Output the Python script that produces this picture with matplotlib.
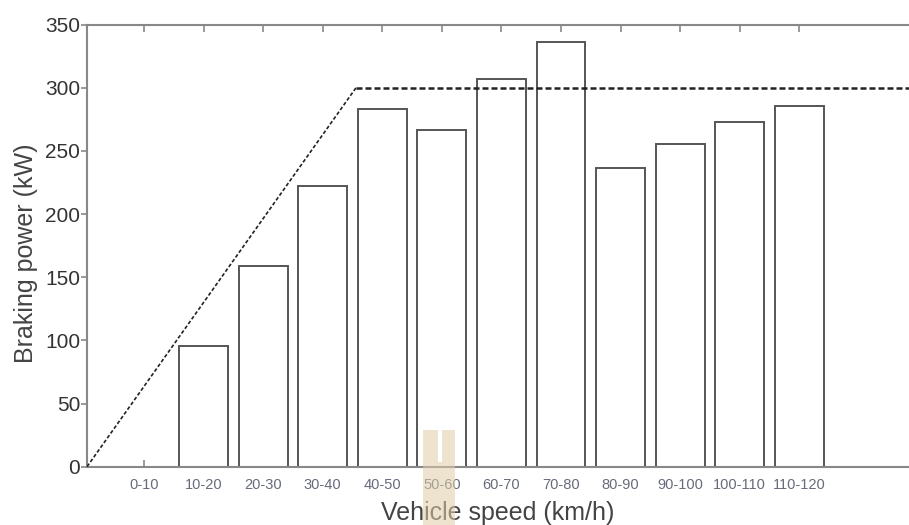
import matplotlib
matplotlib.use("Agg")
import matplotlib.pyplot as plt
from matplotlib.patches import Rectangle

plt.rcParams['font.family'] = ['Liberation Sans', 'DejaVu Sans']

categories = ['0-10', '10-20', '20-30', '30-40', '40-50', '50-60', '60-70',
              '70-80', '80-90', '90-100', '100-110', '110-120']
braking_power = [0, 95.5, 159, 222, 283.5, 266.5, 306.5, 336, 236.5, 255.5, 273, 285.5]

# limit curve (category-axis units, kW)
limit_x = [-0.956, 3.56, 12.84]
limit_y = [0, 300, 300]

y_ticks = [0, 50, 100, 150, 200, 250, 300, 350]

fig = plt.figure(figsize=(9.09, 5.25), dpi=100)
fig.patch.set_facecolor('white')
ax = fig.add_axes([87/909, 1 - 466.7/525, 1 - 87/909, (466.7 - 24.5)/525])

pos = list(range(len(categories)))
ax.bar(pos, braking_power, width=0.82, facecolor='white', edgecolor='#555555',
       linewidth=1.4, zorder=2)

ax.plot(limit_x[:2], limit_y[:2], color='#222222', lw=1.2,
        linestyle=(0, (2.2, 1.3)), zorder=3)
ax.plot(limit_x[1:], limit_y[1:], color='#222222', lw=1.8,
        linestyle=(0, (2.4, 1.2)), zorder=3)

ax.set_xlim(-0.956, 12.84)
ax.set_ylim(0, 350)
ax.set_axisbelow(True)

for side in ['left', 'top', 'bottom']:
    ax.spines[side].set_color('#888888')
    ax.spines[side].set_linewidth(1.5)
ax.spines['right'].set_visible(False)

ax.set_yticks(y_ticks)
ax.tick_params(axis='y', direction='out', length=4, width=1.2, color='#888888',
               labelsize=15, labelcolor='#333333', pad=1)
ax.set_xticks(pos)
ax.set_xticklabels(categories)
ax.tick_params(axis='x', direction='in', length=5, width=1.2, color='#888888',
               top=True, labelsize=10.5, labelcolor='#676b7a', pad=8)

ax.set_xlabel('Vehicle speed (km/h)', fontsize=18, color='#444444')
ax.xaxis.set_label_coords(0.5, (466.7 - 513) / 442)
ax.xaxis.label.set_va('center')
ax.set_ylabel('Braking power (kW)', fontsize=18, color='#444444')
ax.yaxis.set_label_coords((26 - 87) / 822, (466.7 - 253) / 442)
ax.yaxis.label.set_va('center')

# beige overlay artifact
beige = '#dfcda9'
for (x0, x1, y0) in [(423, 438, 430), (442, 455, 430), (438, 442, 462)]:
    fig.add_artist(Rectangle((x0/909, 0), (x1 - x0)/909, (525 - y0)/525,
                             transform=fig.transFigure, facecolor=beige,
                             edgecolor='none', alpha=0.55, zorder=5))

fig.savefig('out.png', dpi=100)
